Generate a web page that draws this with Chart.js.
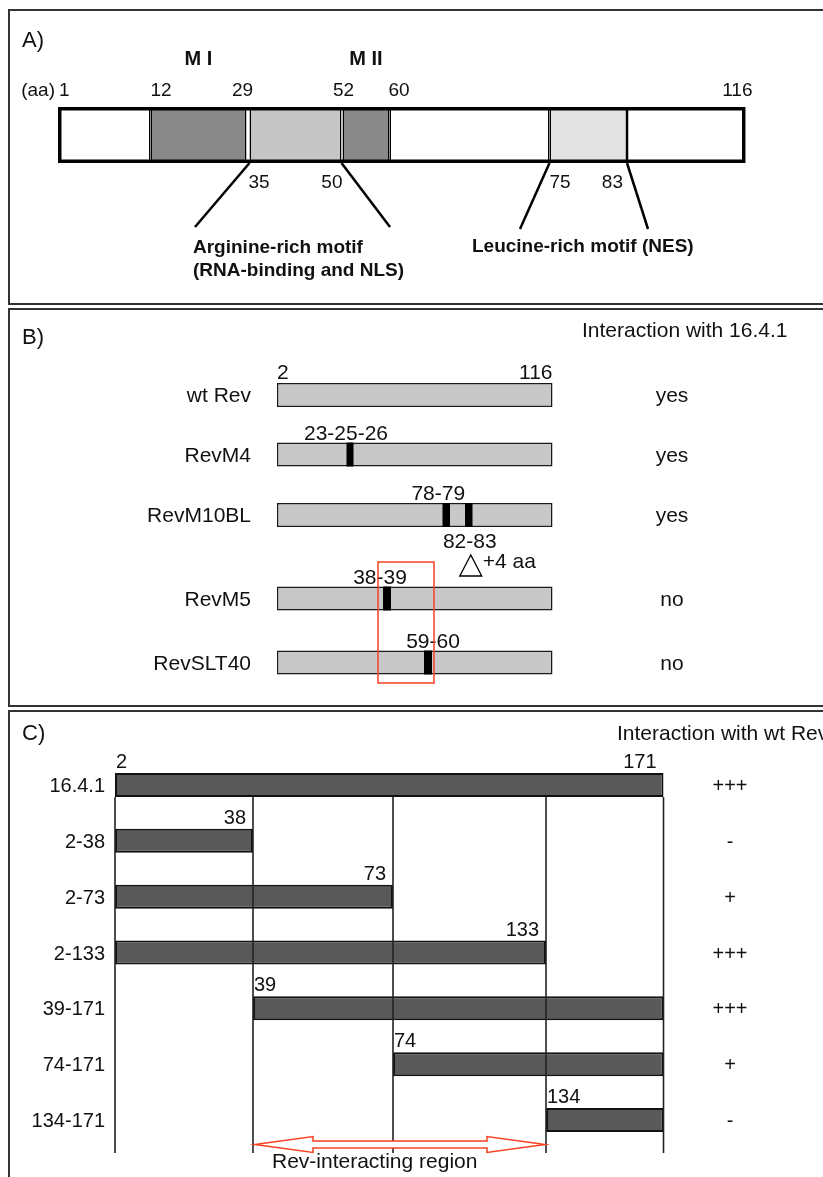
<!DOCTYPE html>
<html>
<head>
<meta charset="utf-8">
<script src="https://cdn.jsdelivr.net/npm/chart.js@4.4.1/dist/chart.umd.min.js"></script>
<style>
  html, body { margin: 0; padding: 0; background: #fff; overflow: hidden; }
  body { width: 823px; height: 1177px; position: relative; }
  .panel { position: absolute; left: 8px; width: 1000px; border: 2px solid #333; box-sizing: border-box; }
  #figure { position: absolute; left: 0; top: 0; }
</style>
</head>
<body>
<div class="panel" style="top:9px;height:296px"></div>
<div class="panel" style="top:308px;height:399px"></div>
<div class="panel" style="top:710px;height:600px"></div>
<canvas id="figure" width="823" height="1177"></canvas>
<script>
// A) Rev domains, aa positions
const revSegStart = [1, 12, 35, 52, 60, 75, 83];
const revSegEnd = [12, 29, 50, 60, 75, 83, 116];
const revTopTicks = [1, 12, 29, 52, 60, 116];
const revBottomTicks = [35, 50, 75, 83];
const motifNames = ["M I", "M II"];
const motifRanges = [[12, 29], [52, 60]];

// B) Rev mutants, interaction with 16.4.1
const mutants = ["wt Rev", "RevM4", "RevM10BL", "RevM5", "RevSLT40"];
const mutantFrom = [2, 2, 2, 2, 2];
const mutantTo = [116, 116, 116, 116, 116];
const mutRow = [1, 2, 2, 3, 4];
const mutFrom = [23, 78, 82, 38, 59];
const mutTo = [26, 79, 83, 39, 60];
const mutLabels = ["23-25-26", "78-79", "82-83", "38-39", "59-60"];
const mutantInteraction = ["yes", "yes", "yes", "no", "no"];

// C) 16.4.1 fragments, interaction with wt Rev
const fragments = ["16.4.1", "2-38", "2-73", "2-133", "39-171", "74-171", "134-171"];
const fragFrom = [2, 2, 2, 2, 39, 74, 134];
const fragTo = [171, 38, 73, 133, 171, 171, 171];
const fragInteraction = ["+++", "-", "+", "+++", "+++", "+", "-"];
const revRegion = [39, 133];

// the drawing is schematic, not to scale: each axis gets its own ruler [value, px]
const rulers = {
  xa: [[1, 58], [12, 150.5], [29, 246.5], [35, 249.5], [50, 341.5], [52, 342.5], [60, 389.5], [75, 549.5], [83, 627], [116, 745.5]],
  ya: [[0, 135], [1, 136]],
  xb: [[1.5, 277], [22.5, 346.5], [26.5, 353.5], [37.5, 383], [39.5, 391], [58.5, 424], [60.5, 432], [77.5, 442.5], [79.5, 450], [81.5, 465], [83.5, 472.5], [116.5, 552.5]],
  yb: [[0, 395], [1, 454.5], [2, 515], [3, 598.5], [4, 662.5]],
  xc: [[1.5, 115], [38.5, 253], [73.5, 393], [133.5, 546], [171.5, 663.5]],
  yc: [[0, 785], [6, 1120]]
};

class RulerScale extends Chart.LinearScale {
  getPixelForValue(value) {
    const stops = rulers[this.id];
    let i = 1;
    while (i < stops.length - 1 && value > stops[i][0]) i++;
    const a = stops[i - 1], b = stops[i];
    const start = this.isHorizontal() ? this.left : this.top;
    return start + a[1] + (value - a[0]) * (b[1] - a[1]) / (b[0] - a[0]);
  }
  getValueForPixel(pixel) {
    const stops = rulers[this.id];
    const p = pixel - (this.isHorizontal() ? this.left : this.top);
    let i = 1;
    while (i < stops.length - 1 && p > stops[i][1]) i++;
    const a = stops[i - 1], b = stops[i];
    return a[0] + (p - a[1]) * (b[0] - a[0]) / (b[1] - a[1]);
  }
}
RulerScale.id = "ruler";
RulerScale.defaults = {};
Chart.register(RulerScale);

const FONT = '"Liberation Sans", Arial, Helvetica, sans-serif';

function txt(ctx, s, x, y, size, align, bold) {
  ctx.font = (bold ? "bold " : "") + size + "px " + FONT;
  ctx.textAlign = align || "left";
  ctx.textBaseline = "alphabetic";
  ctx.fillStyle = "#111";
  ctx.fillText(s, x, y);
}

function line(ctx, x1, y1, x2, y2, w, color) {
  ctx.beginPath();
  ctx.moveTo(x1, y1);
  ctx.lineTo(x2, y2);
  ctx.lineWidth = w;
  ctx.strokeStyle = color || "#000";
  ctx.stroke();
}

function drawPanelA(ctx, x, y) {
  const mid = y.getPixelForValue(0), top = mid - 28, bottom = mid + 28;
  txt(ctx, "A)", 22, 47, 22);
  motifNames.forEach((n, i) => {
    const cx = (x.getPixelForValue(motifRanges[i][0]) + x.getPixelForValue(motifRanges[i][1])) / 2;
    txt(ctx, n, cx, 65, 20, "center", true);
  });
  txt(ctx, "(aa)", 55, top - 11, 19, "right");
  const topAlign = ["left", "left", "center", "center", "left", "right"];
  const topDx = [1, 0, -4, 1, -1, 7];
  revTopTicks.forEach((v, i) => txt(ctx, String(v), x.getPixelForValue(v) + topDx[i], top - 11, 19, topAlign[i]));
  const botAlign = ["left", "right", "left", "right"];
  const botDx = [-1, 1, 0, -4];
  revBottomTicks.forEach((v, i) => txt(ctx, String(v), x.getPixelForValue(v) + botDx[i], bottom + 25, 19, botAlign[i]));

  // callouts to the two motifs
  line(ctx, x.getPixelForValue(35), bottom, 195, bottom + 64, 2.5);
  line(ctx, x.getPixelForValue(50), bottom, 390, bottom + 64, 2.5);
  line(ctx, x.getPixelForValue(75), bottom, 520, bottom + 66, 2.5);
  line(ctx, x.getPixelForValue(83), bottom, 648, bottom + 66, 2.5);
  txt(ctx, "Arginine-rich motif", 193, 253, 19, "left", true);
  txt(ctx, "(RNA-binding and NLS)", 193, 276, 19, "left", true);
  txt(ctx, "Leucine-rich motif (NES)", 472, 252, 19, "left", true);
}

function drawPanelB(ctx, x, y) {
  txt(ctx, "B)", 22, 344, 22);
  txt(ctx, "Interaction with 16.4.1", 582, 337, 21);
  mutants.forEach((m, i) => {
    const cy = y.getPixelForValue(i);
    txt(ctx, m, 251, cy + 7, 21, "right");
    txt(ctx, mutantInteraction[i], 672, cy + 7, 21, "center");
  });
  const top0 = y.getPixelForValue(0) - 12;
  txt(ctx, String(mutantFrom[0]), x.getPixelForValue(mutantFrom[0] - 0.5), top0 - 4, 21, "left");
  txt(ctx, String(mutantTo[0]), x.getPixelForValue(mutantTo[0] + 0.5), top0 - 4, 21, "right");

  const labelDx = [-4, -8, 1, -7, 5];
  const below = [false, false, true, false, false];
  mutLabels.forEach((l, i) => {
    const cx = (x.getPixelForValue(mutFrom[i] - 0.5) + x.getPixelForValue(mutTo[i] + 0.5)) / 2 + labelDx[i];
    const cy = y.getPixelForValue(mutRow[i]);
    txt(ctx, l, cx, below[i] ? cy + 33 : cy - 15, 21, "center");
  });

  // insertion of 4 aa after 82-83 in RevM10BL
  const tx = (x.getPixelForValue(81.5) + x.getPixelForValue(83.5)) / 2 + 2;
  const ty = y.getPixelForValue(2) + 12;
  ctx.beginPath();
  ctx.moveTo(tx, ty + 28);
  ctx.lineTo(tx - 11, ty + 49);
  ctx.lineTo(tx + 11, ty + 49);
  ctx.closePath();
  ctx.fillStyle = "#fff";
  ctx.fill();
  ctx.lineWidth = 1.3;
  ctx.strokeStyle = "#000";
  ctx.stroke();
  txt(ctx, "+4 aa", tx + 12, ty + 41, 21, "left");

  // highlight box over RevM5 / RevSLT40 mutations
  const rx1 = x.getPixelForValue(37.5) - 5, rx2 = x.getPixelForValue(60.5) + 2;
  const ry1 = y.getPixelForValue(3) - 36.5, ry2 = y.getPixelForValue(4) + 20.5;
  ctx.lineWidth = 1.5;
  ctx.strokeStyle = "#f4401f";
  ctx.strokeRect(rx1, ry1, rx2 - rx1, ry2 - ry1);
}

function drawPanelC(ctx, x, y) {
  txt(ctx, "C)", 22, 740, 22);
  txt(ctx, "Interaction with wt Rev", 617, 740, 21);

  const edges = [...new Set([...fragFrom.map(v => v - 0.5), ...fragTo.map(v => v + 0.5)])];
  const lineTop = y.getPixelForValue(0) + 12;
  const lineBottom = y.getPixelForValue(fragments.length - 1) + 33;
  edges.forEach(e => {
    const px = x.getPixelForValue(e);
    line(ctx, px, lineTop, px, lineBottom, 1.6, "#222");
  });

  fragments.forEach((f, i) => {
    const cy = y.getPixelForValue(i), top = cy - 12;
    txt(ctx, f, 105, cy + 7, 20, "right");
    txt(ctx, fragInteraction[i], 730, cy + 7, 20, "center");
    if (i === 0 || fragFrom[i] !== fragFrom[0]) {
      txt(ctx, String(fragFrom[i]), x.getPixelForValue(fragFrom[i] - 0.5) + 1, top - 5, 20, "left");
    }
    if (i === 0 || fragTo[i] !== fragTo[0]) {
      txt(ctx, String(fragTo[i]), x.getPixelForValue(fragTo[i] + 0.5) - 7, top - 5, 20, "right");
    }
  });

  // double headed arrow for the Rev-interacting region
  const ax1 = x.getPixelForValue(revRegion[0] - 0.5) + 2;
  const ax2 = x.getPixelForValue(revRegion[1] + 0.5) - 1;
  const ay = lineBottom - 8.5, head = 58, hh = 8, sh = 3.5;
  ctx.beginPath();
  ctx.moveTo(ax1, ay);
  ctx.lineTo(ax1 + head, ay - hh);
  ctx.lineTo(ax1 + head, ay - sh);
  ctx.lineTo(ax2 - head, ay - sh);
  ctx.lineTo(ax2 - head, ay - hh);
  ctx.lineTo(ax2, ay);
  ctx.lineTo(ax2 - head, ay + hh);
  ctx.lineTo(ax2 - head, ay + sh);
  ctx.lineTo(ax1 + head, ay + sh);
  ctx.lineTo(ax1 + head, ay + hh);
  ctx.closePath();
  ctx.fillStyle = "#fff";
  ctx.fill();
  ctx.lineWidth = 1.5;
  ctx.strokeStyle = "#f4401f";
  ctx.stroke();
  txt(ctx, "Rev-interacting region", ax1 + 17, 1168, 21, "left");
}

const annotations = {
  id: "annotations",
  afterDatasetsDraw(chart) {
    const ctx = chart.ctx;
    const s = chart.scales;
    ctx.save();
    drawPanelA(ctx, s.xa, s.ya);
    drawPanelB(ctx, s.xb, s.yb);
    drawPanelC(ctx, s.xc, s.yc);
    ctx.restore();
  }
};

function bar(extra) {
  return Object.assign({ grouped: false, borderSkipped: false, inflateAmount: 0 }, extra);
}

const segColors = ["#fff", "#898989", "#c6c6c6", "#898989", "#fff", "#e3e3e3", "#fff"];

const myChart = new Chart(document.getElementById("figure"), {
  type: "bar",
  data: {
    datasets: [
      bar({
        label: "Rev outline",
        data: [{ x: [revSegStart[0], revSegEnd[revSegEnd.length - 1]], y: 0 }],
        xAxisID: "xa", yAxisID: "ya",
        backgroundColor: "rgba(0,0,0,0)", borderColor: "#000", borderWidth: 3.5,
        barThickness: 56, order: 0
      }),
      bar({
        label: "Rev domains",
        data: revSegStart.map((s, i) => ({ x: [s, revSegEnd[i]], y: 0 })),
        xAxisID: "xa", yAxisID: "ya",
        backgroundColor: segColors, borderColor: "#000",
        borderWidth: { top: 0, bottom: 0, left: 1.5, right: 1.5 },
        barThickness: 56, order: 1
      }),
      bar({
        label: "mutations",
        data: mutRow.map((r, i) => ({ x: [mutFrom[i] - 0.5, mutTo[i] + 0.5], y: r })),
        xAxisID: "xb", yAxisID: "yb",
        backgroundColor: "#000", borderWidth: 0,
        barThickness: 24, order: 0
      }),
      bar({
        label: "Rev mutants",
        data: mutants.map((m, i) => ({ x: [mutantFrom[i] - 0.5, mutantTo[i] + 0.5], y: i })),
        xAxisID: "xb", yAxisID: "yb",
        backgroundColor: "#c8c8c8", borderColor: "#1a1a1a", borderWidth: 1.5,
        barThickness: 24, order: 1
      }),
      bar({
        label: "16.4.1 fragments",
        data: fragments.map((f, i) => ({ x: [fragFrom[i] - 0.5, fragTo[i] + 0.5], y: i })),
        xAxisID: "xc", yAxisID: "yc",
        backgroundColor: "#595959", borderColor: "#111", borderWidth: 2,
        barThickness: 24, order: 1
      })
    ]
  },
  options: {
    indexAxis: "y",
    responsive: false,
    animation: false,
    events: [],
    layout: { padding: 0 },
    plugins: { legend: { display: false }, tooltip: { enabled: false } },
    scales: {
      xa: { type: "ruler", axis: "x", position: "bottom", display: false },
      ya: { type: "ruler", axis: "y", position: "left", display: false },
      xb: { type: "ruler", axis: "x", position: "bottom", display: false },
      yb: { type: "ruler", axis: "y", position: "left", display: false },
      xc: { type: "ruler", axis: "x", position: "bottom", display: false },
      yc: { type: "ruler", axis: "y", position: "left", display: false }
    }
  },
  plugins: [annotations]
});
</script>
</body>
</html>
